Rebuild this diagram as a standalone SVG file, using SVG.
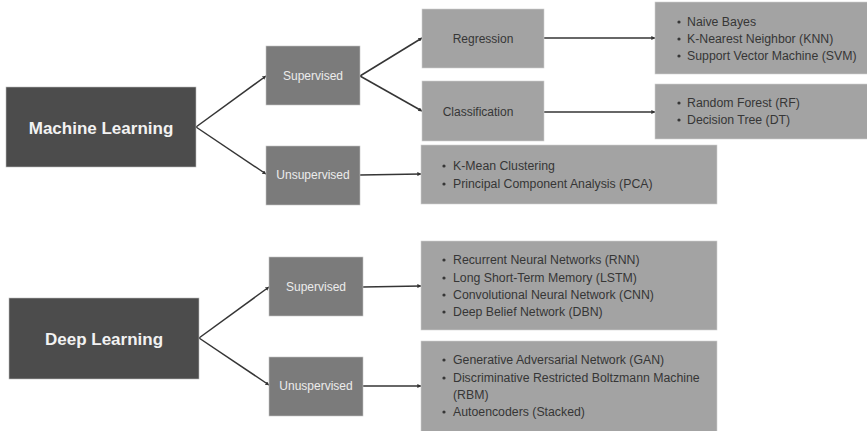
<svg xmlns="http://www.w3.org/2000/svg" width="867" height="431" viewBox="0 0 867 431">
  <defs>
    <marker id="tip" viewBox="0 0 6 6" refX="5.5" refY="3" markerWidth="4" markerHeight="4" orient="auto" markerUnits="userSpaceOnUse">
      <path d="M0,0 L6,3 L0,6 Z" fill="#333"/>
    </marker>
    <style>
      text { font-family: "Liberation Sans", Arial, sans-serif; }
      .root rect { fill: #4c4c4c; stroke: #bdbdbd; stroke-width: 0.6; }
      .root text { fill: #f2f2f2; font-size: 17px; font-weight: bold; text-anchor: middle; dominant-baseline: central; }
      .mid rect { fill: #7b7b7b; stroke: #c4c4c4; stroke-width: 0.6; }
      .mid text { fill: #ececec; font-size: 12px; text-anchor: middle; dominant-baseline: central; }
      .leaf rect { fill: #a3a3a3; stroke: #d0d0d0; stroke-width: 0.6; }
      .leaf text { fill: #363636; font-size: 12.3px; dominant-baseline: central; }
      .leaf .c { text-anchor: middle; font-size: 12px; }
      .leaf circle { fill: #363636; }
      .edges line { stroke: #353535; stroke-width: 1.5; marker-end: url(#tip); }
    </style>
  </defs>
  <rect width="867" height="431" fill="#ffffff"/>

  <!-- connectors -->
  <g class="edges">
    <line x1="196" y1="127" x2="266" y2="76"/>
    <line x1="196" y1="127" x2="266" y2="174"/>
    <line x1="360" y1="76" x2="422" y2="38"/>
    <line x1="360" y1="76" x2="422" y2="111"/>
    <line x1="544" y1="38" x2="655" y2="38"/>
    <line x1="544" y1="112" x2="655" y2="112"/>
    <line x1="360" y1="175" x2="421" y2="174"/>
    <line x1="199" y1="338" x2="269" y2="287"/>
    <line x1="199" y1="338" x2="269" y2="385"/>
    <line x1="363" y1="287" x2="421" y2="286"/>
    <line x1="363" y1="386" x2="421" y2="386"/>
  </g>

  <!-- Machine Learning branch -->
  <g id="ml" class="root">
    <rect x="6" y="87" width="190" height="80"/>
    <text x="101" y="128">Machine Learning</text>
  </g>
  <g id="ml-sup" class="mid">
    <rect x="266" y="46" width="94" height="59"/>
    <text x="313" y="76">Supervised</text>
  </g>
  <g id="ml-unsup" class="mid">
    <rect x="266" y="146" width="94" height="59"/>
    <text x="313" y="175">Unsupervised</text>
  </g>
  <g id="regression" class="leaf">
    <rect x="422" y="9" width="122" height="59"/>
    <text class="c" x="483" y="39">Regression</text>
  </g>
  <g id="classification" class="leaf">
    <rect x="422" y="81" width="122" height="60"/>
    <text class="c" x="478" y="112">Classification</text>
  </g>
  <g id="reg-algos" class="leaf">
    <rect x="655" y="2" width="214" height="72"/>
    <circle cx="679" cy="22" r="1.6"/><text x="687" y="22">Naive Bayes</text>
    <circle cx="679" cy="39" r="1.6"/><text x="687" y="39">K-Nearest Neighbor (KNN)</text>
    <circle cx="679" cy="56" r="1.6"/><text x="687" y="56">Support Vector Machine (SVM)</text>
  </g>
  <g id="cls-algos" class="leaf">
    <rect x="655" y="84" width="214" height="55"/>
    <circle cx="679" cy="103" r="1.6"/><text x="687" y="103">Random Forest (RF)</text>
    <circle cx="679" cy="120" r="1.6"/><text x="687" y="120">Decision Tree (DT)</text>
  </g>
  <g id="unsup-algos" class="leaf">
    <rect x="421" y="145" width="296" height="59"/>
    <circle cx="444" cy="166" r="1.6"/><text x="453" y="166">K-Mean Clustering</text>
    <circle cx="444" cy="184" r="1.6"/><text x="453" y="184">Principal Component Analysis (PCA)</text>
  </g>

  <!-- Deep Learning branch -->
  <g id="dl" class="root">
    <rect x="9" y="298" width="190" height="81"/>
    <text x="104" y="339">Deep Learning</text>
  </g>
  <g id="dl-sup" class="mid">
    <rect x="269" y="257" width="94" height="59"/>
    <text x="316" y="287">Supervised</text>
  </g>
  <g id="dl-unsup" class="mid">
    <rect x="269" y="357" width="94" height="59"/>
    <text x="316" y="386">Unuspervised</text>
  </g>
  <g id="dl-sup-algos" class="leaf">
    <rect x="421" y="241" width="296" height="89"/>
    <circle cx="444" cy="260" r="1.6"/><text x="453" y="260">Recurrent Neural Networks (RNN)</text>
    <circle cx="444" cy="278" r="1.6"/><text x="453" y="278">Long Short-Term Memory (LSTM)</text>
    <circle cx="444" cy="295" r="1.6"/><text x="453" y="295">Convolutional Neural Network (CNN)</text>
    <circle cx="444" cy="312" r="1.6"/><text x="453" y="312">Deep Belief Network (DBN)</text>
  </g>
  <g id="dl-unsup-algos" class="leaf">
    <rect x="421" y="341" width="296" height="92"/>
    <circle cx="444" cy="360" r="1.6"/><text x="453" y="360">Generative Adversarial Network (GAN)</text>
    <circle cx="444" cy="378" r="1.6"/><text x="453" y="378">Discriminative Restricted Boltzmann Machine</text>
    <text x="453" y="395">(RBM)</text>
    <circle cx="444" cy="412" r="1.6"/><text x="453" y="412">Autoencoders (Stacked)</text>
  </g>
</svg>
